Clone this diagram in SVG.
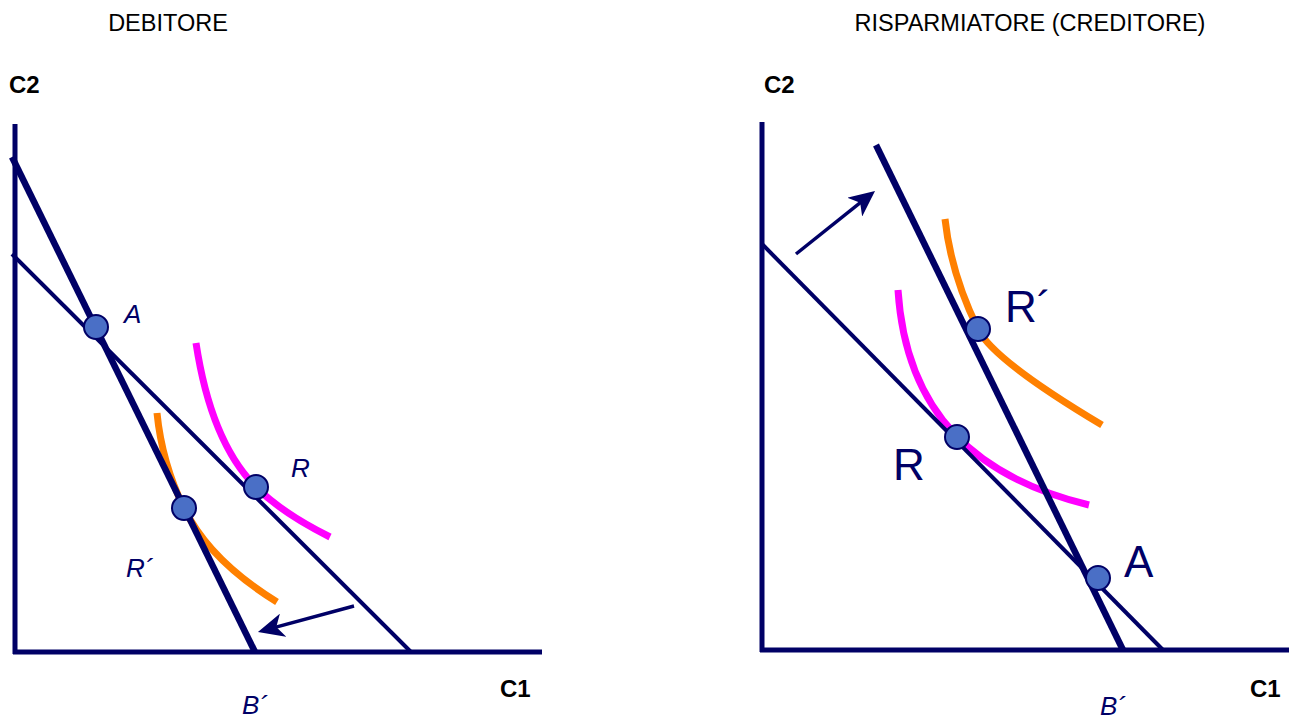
<svg xmlns="http://www.w3.org/2000/svg" width="1294" height="720" viewBox="0 0 1294 720">
<style>
.title{font-family:"Liberation Sans",Arial,sans-serif;font-size:23.5px;fill:#000}
.ax{font-family:"Liberation Sans",Arial,sans-serif;font-size:24px;font-weight:bold;fill:#000}
.lbl{font-family:"Liberation Sans",Arial,sans-serif;font-style:italic;fill:#000066}
.big{font-family:"Liberation Sans",Arial,sans-serif;fill:#000066}
.axis{stroke:#000066;stroke-width:5;fill:none}
.thin{stroke:#000066;stroke-width:4;fill:none}
.thick{stroke:#000066;stroke-width:6.5;fill:none}
.mag{stroke:#ff00ff;stroke-width:7;fill:none}
.org{stroke:#ff8000;stroke-width:7;fill:none}
.pt{fill:#4a6fc6;stroke:#000066;stroke-width:2}
.arr{stroke:#000066;stroke-width:3.5;fill:none;marker-end:url(#ah)}
</style>
<defs>
<marker id="ah" markerUnits="userSpaceOnUse" viewBox="0 0 26 24" refX="16" refY="12" markerWidth="26" markerHeight="24" orient="auto">
<path d="M0,0 L26,12 L0,24 L7,12 Z" fill="#000066"/>
</marker>
</defs>
<rect width="1294" height="720" fill="#fff"/>
<text class="title" x="168" y="31" text-anchor="middle">DEBITORE</text>
<text class="title" x="1030" y="31" text-anchor="middle">RISPARMIATORE (CREDITORE)</text>
<text class="ax" x="9" y="93">C2</text>
<text class="ax" x="500" y="697">C1</text>
<text class="ax" x="764" y="93">C2</text>
<text class="ax" x="1250" y="697">C1</text>
<g id="left-axes">
<path class="axis" d="M15,124 L15,654 M13,652 L542,652"/>
</g>
<g id="right-axes">
<path class="axis" d="M762,122 L762,652 M760,650 L1289,650"/>
</g>
<g id="curves">
<path id="left-magenta" class="mag" d="M196,343 Q211,442 256,487 Q282,513 330,537"/>
<path id="left-orange" class="org" d="M157,413 Q162,463 184,508 Q209,560 277,602"/>
<path id="right-orange" class="org" d="M945,219 Q951,274 978,329 Q993,360 1102,425"/>
<path id="right-magenta" class="mag" d="M898,290 C906,415 978,478 1089,505"/>
</g>
<g id="connectors">
<path class="thin" d="M12,254 L411,652"/>
<path class="thick" d="M12,157 L255,652"/>
<path class="thin" d="M762,244 L1163,650"/>
<path class="thick" d="M876,145 L1123,650"/>
<path class="arr" d="M354,606 L267.6,629.4"/>
<path class="arr" d="M796,254 L867.2,197.2"/>
</g>
<g id="node-A-left"><circle class="pt" cx="96" cy="327" r="12"/><text class="lbl" x="124" y="323" font-size="26">A</text></g>
<g id="node-R-left"><circle class="pt" cx="256" cy="487" r="12"/><text class="lbl" x="291" y="477" font-size="26">R</text></g>
<g id="node-R1-left"><circle class="pt" cx="184" cy="508" r="12"/><text class="lbl" x="126" y="577" font-size="26">R´</text></g>
<g id="node-B-left"><text class="lbl" x="242" y="714" font-size="26">B´</text></g>
<g id="node-R1-right"><circle class="pt" cx="978" cy="329" r="12"/><text class="big" x="1005" y="322" font-size="44">R´</text></g>
<g id="node-R-right"><circle class="pt" cx="957" cy="437" r="12"/><text class="big" x="893" y="480" font-size="44">R</text></g>
<g id="node-A-right"><circle class="pt" cx="1098" cy="578" r="12"/><text class="big" x="1124" y="577" font-size="44">A</text></g>
<g id="node-B-right"><text class="lbl" x="1100" y="715" font-size="26">B´</text></g>
</svg>
